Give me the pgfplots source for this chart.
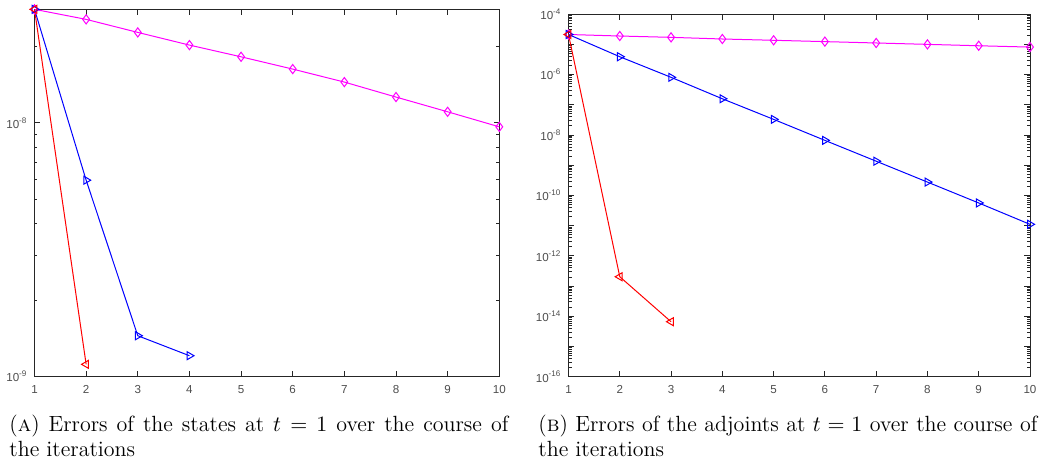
\documentclass[border=0pt]{standalone}
\usepackage{pgfplots}
\pgfplotsset{compat=1.18}
\usepackage{fontspec}
\newfontfamily\ticksf{Liberation Sans}
\definecolor{tickgray}{HTML}{4D4D4D}
\definecolor{axgray}{HTML}{262626}
\definecolor{mmag}{RGB}{255,0,255}
\definecolor{mblue}{RGB}{0,0,255}
\definecolor{mred}{RGB}{255,0,0}
\pgfplotsset{
  every axis/.append style={
    scale only axis, xmin=1, xmax=10, xtick={1,...,10},
    /pgf/number format/assume math mode=true,
    axis line style={axgray, line width=0.4pt},
    every tick/.style={axgray, line width=0.4pt},
    major tick length=2.75pt, minor tick length=1.5pt,
    tick align=inside,
    ticklabel style={font=\ticksf\fontsize{5.8}{6}\selectfont, text=tickgray},
    xticklabel style={yshift=-1pt},
    clip=false,
  },
}
\begin{document}
\begin{tikzpicture}
\path[use as bounding box] (0,0) rectangle (520pt,-233pt);
% Left
\begin{axis}[ymode=log, at={(17.25pt,-188.25pt)}, anchor=south west,
  width=232.4pt, height=183.6pt,
  ymin=1e-9, ymax=2.8e-8,
  ytick={1e-9,1e-8}, yticklabels={10\textsuperscript{-9},10\textsuperscript{-8}},
  minor ytick={2e-9,3e-9,4e-9,5e-9,6e-9,7e-9,8e-9,9e-9,2e-8}]
\addplot[mmag, line width=0.5pt, mark=diamond, mark size=2.3pt, mark options={solid}] coordinates {(1,2.8e-8)(2,2.556e-8)(3,2.271e-8)(4,2.024e-8)(5,1.82e-8)(6,1.628e-8)(7,1.447e-8)(8,1.263e-8)(9,1.105e-8)(10,9.64e-9)};
\addplot[mblue, line width=0.5pt, mark=triangle, mark size=2.3pt, mark options={solid, rotate=-90}] coordinates {(1,2.8e-8)(2,5.94e-9)(3,1.448e-9)(4,1.208e-9)};
\addplot[mred, line width=0.5pt, mark=triangle, mark size=2.3pt, mark options={solid, rotate=90}] coordinates {(1,2.8e-8)(2,1.117e-9)};
\end{axis}
% Right
\begin{axis}[ymode=log, at={(284.25pt,-188.35pt)}, anchor=south west,
  width=230.75pt, height=181.35pt,
  ymin=1e-16, ymax=1e-4,
  ytick={1e-16,1e-15,1e-14,1e-13,1e-12,1e-11,1e-10,1e-9,1e-8,1e-7,1e-6,1e-5,1e-4},
  yticklabels={10\textsuperscript{-16},,10\textsuperscript{-14},,10\textsuperscript{-12},,10\textsuperscript{-10},,10\textsuperscript{-8},,10\textsuperscript{-6},,10\textsuperscript{-4}},
  minor ytick={2e-16,3e-16,4e-16,5e-16,6e-16,7e-16,8e-16,9e-16,
  2e-15,3e-15,4e-15,5e-15,6e-15,7e-15,8e-15,9e-15,
  2e-14,3e-14,4e-14,5e-14,6e-14,7e-14,8e-14,9e-14,
  2e-13,3e-13,4e-13,5e-13,6e-13,7e-13,8e-13,9e-13,
  2e-12,3e-12,4e-12,5e-12,6e-12,7e-12,8e-12,9e-12,
  2e-11,3e-11,4e-11,5e-11,6e-11,7e-11,8e-11,9e-11,
  2e-10,3e-10,4e-10,5e-10,6e-10,7e-10,8e-10,9e-10,
  2e-9,3e-9,4e-9,5e-9,6e-9,7e-9,8e-9,9e-9,
  2e-8,3e-8,4e-8,5e-8,6e-8,7e-8,8e-8,9e-8,
  2e-7,3e-7,4e-7,5e-7,6e-7,7e-7,8e-7,9e-7,
  2e-6,3e-6,4e-6,5e-6,6e-6,7e-6,8e-6,9e-6,
  2e-5,3e-5,4e-5,5e-5,6e-5,7e-5,8e-5,9e-5}]
\addplot[mmag, line width=0.5pt, mark=diamond, mark size=2.3pt, mark options={solid}] coordinates {(1,2.1e-5)(2,1.87e-5)(3,1.69e-5)(4,1.49e-5)(5,1.35e-5)(6,1.22e-5)(7,1.1e-5)(8,9.9e-6)(9,8.9e-6)(10,8.05e-6)};
\addplot[mblue, line width=0.5pt, mark=triangle, mark size=2.3pt, mark options={solid, rotate=-90}] coordinates {(1,2.1e-5)(2,3.86e-6)(3,8.04e-7)(4,1.57e-7)(5,3.27e-8)(6,6.6e-9)(7,1.35e-9)(8,2.75e-10)(9,5.6e-11)(10,1.1e-11)};
\addplot[mred, line width=0.5pt, mark=triangle, mark size=2.3pt, mark options={solid, rotate=90}] coordinates {(1,2.1e-5)(2,2.03e-13)(3,6.6e-15)};
\end{axis}
% Captions
\node[anchor=north west, inner sep=0pt, text width=249.5pt, align=justify, font=\fontsize{11}{12.6}\selectfont] at (4.5pt,-207.3pt)
  {(\textsc{a}) Errors of the states at $t = 1$ over the course of\linebreak the iterations};
\node[anchor=north west, inner sep=0pt, text width=249.5pt, align=justify, font=\fontsize{11}{12.6}\selectfont] at (269pt,-207.3pt)
  {(\textsc{b}) Errors of the adjoints at $t = 1$ over the course of\linebreak the iterations};
\end{tikzpicture}
\end{document}
